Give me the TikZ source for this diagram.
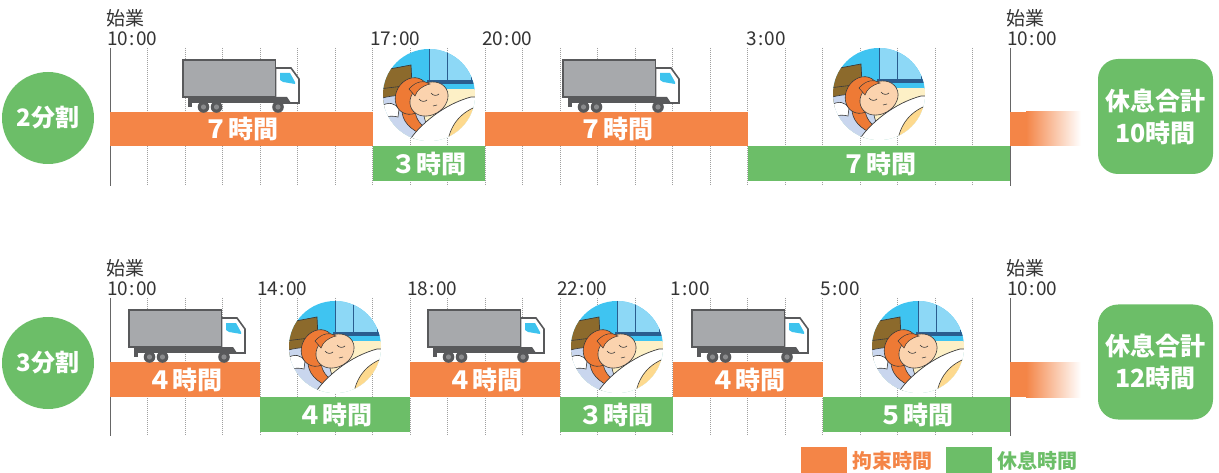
\documentclass[tikz,border=0pt]{standalone}
\usepackage{fontspec}
\setmainfont{Noto Sans CJK JP}
\definecolor{org}{HTML}{F48547}
\definecolor{grn}{HTML}{6CBE68}
\definecolor{txt}{HTML}{333333}
\definecolor{tbody}{HTML}{A7A9AC}
\definecolor{tdark}{HTML}{58595B}
\definecolor{thub}{HTML}{8A8B8D}
\definecolor{winb}{HTML}{3DC3EE}
\definecolor{sky}{HTML}{3FC4F1}
\definecolor{winl}{HTML}{8DD8F6}
\definecolor{navy}{HTML}{2A5D8F}
\definecolor{wall}{HTML}{FDF0C6}
\definecolor{brownb}{HTML}{8C6A2C}
\definecolor{pil}{HTML}{C9D6EE}
\definecolor{hair}{HTML}{EE7A35}
\definecolor{skin}{HTML}{FBD3AE}
\definecolor{blank}{HTML}{FDD98E}
\definecolor{outl}{HTML}{3A3A3A}
\newcommand\barfont{\fontsize{25pt}{25pt}\selectfont\bfseries}
\newcommand\tfont{\fontsize{19pt}{19pt}\selectfont}
\newcommand\hhmm[2]{#1\kern1.5pt:\kern1.5pt#2}
\tikzset{
  every node/.style={inner sep=0pt, outer sep=0pt},
  obar/.style={fill=org, text=white, font=\barfont},
  gbar/.style={fill=grn, text=white, font=\barfont},
  tlabel/.style={anchor=west, font=\tfont, text=txt},
  gridd/.style={gray!75, line width=0.7pt, dash pattern=on 1pt off 1pt},
  grids/.style={gray!80!black, line width=0.8pt},
  splitc/.style={circle, fill=grn, minimum size=92pt, text=white, font=\fontsize{24pt}{24pt}\selectfont\bfseries},
  totbox/.style={rectangle, rounded corners=20pt, fill=grn, minimum width=115pt, minimum height=115pt, align=center, text=white, font=\fontsize{25pt}{32pt}\selectfont\bfseries},
  legbox/.style={minimum width=46pt, minimum height=26pt},
  legtext/.style={anchor=west, font=\fontsize{20pt}{20pt}\selectfont\bfseries},
}
\newcommand\truckat[2]{%
\begin{scope}[shift={(#1,#2)}]
  \fill[tdark] (5,37) rectangle (104,43);
  \fill[tdark] (5,37) rectangle (9,47);
  \filldraw[fill=white, draw=tdark, line width=1.6pt] (92.5,8) -- (108,8) -- (116,19) -- (116,43) -- (92.5,43) -- cycle;
  \fill[tdark] (92.5,37) -- (104,37) -- (108,43) -- (92.5,43) -- cycle;
  \fill[winb] (97,13) -- (107,13) -- (112,22) -- (112,24) -- (100,22) -- (97,20) -- cycle;
  \filldraw[fill=tbody, draw=tdark, line width=1.8pt] (0,0) rectangle (92.5,37);
  \foreach \wx in {20.5,33.5,95} {\fill[tdark] (\wx,47) circle (5.8); \fill[thub] (\wx,47) circle (2.6);}
\end{scope}}
\newcommand\sleeper[2]{%
\begin{scope}[shift={(#1,#2)}]
  \begin{scope}
  \clip (0,0) circle (46);
  \fill[sky] (-50,-50) rectangle (50,50);
  \fill[wall] (-50,-6) rectangle (50,50);
  \filldraw[fill=winl, draw=navy, line width=0.8pt] (0,-50) rectangle (42,-15);
  \draw[navy, line width=0.8pt] (18,-50) -- (18,-15);
  \fill[navy] (-2,-15) rectangle (50,-11);
  \filldraw[fill=brownb, draw=outl, line width=0.7pt] (-50,-24) -- (-18,-30) -- (-16,10) -- (-50,14) -- cycle;
  \draw[outl, line width=0.6pt] (-50,-6) -- (-17,-10);
  \filldraw[fill=pil, draw=outl, line width=0.6pt] (-50,4) .. controls (-30,-2) and (-15,0) .. (-8,10) -- (0,40) -- (-50,50) -- cycle;
  \filldraw[fill=white, draw=outl, line width=0.6pt] (-50,12) .. controls (-40,6) and (-34,8) .. (-30,14) -- (-31,22) .. controls (-40,20) and (-45,22) .. (-50,24) -- cycle;
  \filldraw[fill=hair, draw=outl, line width=0.6pt] (-26,8) .. controls (-30,22) and (-22,32) .. (-10,38) -- (-5,32) .. controls (-12,26) and (-16,18) .. (-12,10) -- cycle;
  \filldraw[fill=hair, draw=outl, line width=0.6pt] (-17,1) ellipse [x radius=19, y radius=16, rotate=60];
  \filldraw[fill=skin, draw=outl, line width=0.6pt] (0,4) ellipse [x radius=20, y radius=16, rotate=30];
  \filldraw[fill=hair, draw=outl, line width=0.5pt] (-20,-6) .. controls (-13,-14) and (-5,-15) .. (1,-11) .. controls (-7,-9) and (-12,-5) .. (-14,1) -- cycle;
  \draw[outl, line width=0.6pt] (-10,4) .. controls (-8,7) and (-4,7) .. (-2,5);
  \draw[outl, line width=0.6pt] (2,-2) .. controls (4,1) and (8,1) .. (10,-1);
  \draw[outl, line width=0.6pt] (4,11) -- (8,10);
  \filldraw[fill=white, draw=outl, line width=0.7pt] (-25,52) -- (-14,38) .. controls (0,22) and (20,8) .. (42,2) -- (52,2) -- (52,52) -- cycle;
  \filldraw[fill=blank, draw=outl, line width=0.6pt] (18,52) .. controls (20,30) and (32,16) .. (52,10) -- (52,52) -- cycle;
  \end{scope}
\end{scope}}
\begin{document}
\begin{tikzpicture}[x=1pt, y=-1pt]
\useasboundingbox (0,0) rectangle (1219,473);
% grid lines
\foreach \r in {0,250} {
  \foreach \i in {1,...,23} {\draw[gridd] ({110+37.5*\i},{48+\r}) -- ({110+37.5*\i},{186+\r});}
  \draw[grids] (110,{48+\r}) -- (110,{186+\r});
  \draw[grids] (1010,{48+\r}) -- (1010,{186+\r});
}
% time labels, row 1
\node[tlabel] (ts0) at (106,18) {始業};
\node[tlabel] (t0) at (107,39) {\hhmm{10}{00}};
\node[tlabel] (t1) at (370,39) {\hhmm{17}{00}};
\node[tlabel] (t2) at (482,39) {\hhmm{20}{00}};
\node[tlabel] (t3) at (746,39) {\hhmm{3}{00}};
\node[tlabel] (ts4) at (1006,18) {始業};
\node[tlabel] (t4) at (1007,39) {\hhmm{10}{00}};
% time labels, row 2
\node[tlabel] (us0) at (106,268) {始業};
\node[tlabel] (u0) at (107,289) {\hhmm{10}{00}};
\node[tlabel] (u1) at (257,289) {\hhmm{14}{00}};
\node[tlabel] (u2) at (407,289) {\hhmm{18}{00}};
\node[tlabel] (u3) at (557,289) {\hhmm{22}{00}};
\node[tlabel] (u4) at (670,289) {\hhmm{1}{00}};
\node[tlabel] (u5) at (820,289) {\hhmm{5}{00}};
\node[tlabel] (us6) at (1006,268) {始業};
\node[tlabel] (u6) at (1007,289) {\hhmm{10}{00}};
% bars row 1
\node[obar, minimum width=262.5pt, minimum height=34pt] (a1) at (241.25,129) {７時間};
\node[gbar, minimum width=112.5pt, minimum height=35pt] (a2) at (428.75,163.5) {３時間};
\node[obar, minimum width=262.5pt, minimum height=34pt] (a3) at (616.25,129) {７時間};
\node[gbar, minimum width=262.5pt, minimum height=35pt] (a4) at (878.75,163.5) {７時間};
\fill[org] (1010,112) rectangle (1027,146);
\shade[left color=org, right color=white] (1026,112) rectangle (1081,146);
% bars row 2
\node[obar, minimum width=150pt, minimum height=35pt] (b1) at (185,379.5) {４時間};
\node[gbar, minimum width=150pt, minimum height=35pt] (b2) at (335,414.5) {４時間};
\node[obar, minimum width=150pt, minimum height=35pt] (b3) at (485,379.5) {４時間};
\node[gbar, minimum width=112.5pt, minimum height=35pt] (b4) at (616.25,414.5) {３時間};
\node[obar, minimum width=150pt, minimum height=35pt] (b5) at (747.5,379.5) {４時間};
\node[gbar, minimum width=187.5pt, minimum height=35pt] (b6) at (916.25,414.5) {５時間};
\fill[org] (1010,362) rectangle (1027,397);
\shade[left color=org, right color=white] (1026,362) rectangle (1081,397);
% trucks
\truckat{183}{60}
\truckat{563}{60}
\truckat{129}{310}
\truckat{428}{310}
\truckat{692}{310}
% sleepers
\sleeper{429}{95}
\sleeper{879}{94}
\sleeper{335}{347}
\sleeper{617}{347}
\sleeper{918}{347}
% split circles
\node[splitc] (c2) at (48,118) {2分割};
\node[splitc] (c3) at (48,363) {3分割};
% total boxes
\node[totbox] (k1) at (1155.5,116.5) {休息合計\\10時間};
\node[totbox] (k2) at (1155.5,362) {休息合計\\12時間};
% legend
\node[legbox, fill=org] (l1) at (824,460) {};
\node[legtext, text=org] (l1t) at (852,461) {拘束時間};
\node[legbox, fill=grn] (l2) at (969,460) {};
\node[legtext, text=grn] (l2t) at (997,461) {休息時間};
\end{tikzpicture}
\end{document}
